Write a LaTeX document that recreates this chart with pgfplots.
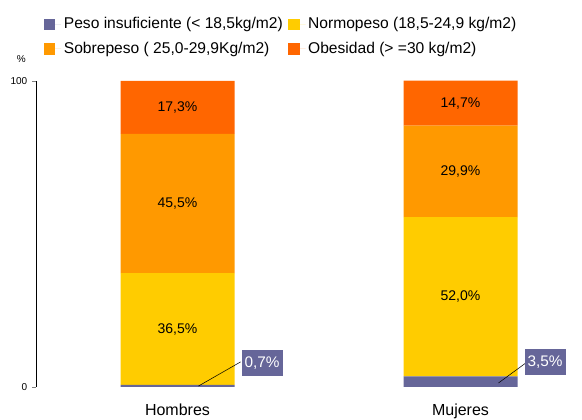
\documentclass[border=0pt]{standalone}
\usepackage{fontspec}
\setmainfont{Liberation Sans}
\usepackage{pgfplots}
\pgfplotsset{compat=1.18}

\definecolor{cInsuf}{HTML}{666699}
\definecolor{cNormo}{HTML}{FFCC00}
\definecolor{cSobre}{HTML}{FF9900}
\definecolor{cObes}{HTML}{FF6600}

\begin{document}
\begin{tikzpicture}
  \useasboundingbox (-27pt,-24.75pt) rectangle (409.5pt,290.25pt);
  \begin{axis}[
    scale only axis,
    width=382.05pt,
    height=229.5pt,
    ybar stacked,
    bar width=85.5pt,
    xmin=-0.5, xmax=1.3,
    ymin=0, ymax=100,
    clip=false,
    axis lines=left,
    axis line style={-},
    x axis line style={draw=none},
    xtick={0,1},
    xticklabels={Hombres,Mujeres},
    xtick style={draw=none},
    xticklabel style={font=\fontsize{12}{14}\selectfont, yshift=-6pt},
    ytick={0,100},
    tick align=outside,
    major tick length=3pt,
    yticklabel style={font=\fontsize{7.5}{8}\selectfont},
    /pgf/number format/assume math mode=true,
    legend columns=2,
    legend cell align=left,
    legend style={
      at={(0.015,1)}, anchor=south west, yshift=17pt,
      draw=none, fill=none, inner sep=0pt,
      font=\fontsize{11.7}{14}\selectfont,
      /tikz/every even column/.append style={column sep=2pt},
      row sep=4.5pt,
    },
    legend image code/.code={
      \fill[#1] (0pt,-4.5pt) rectangle (8.5pt,4pt);
      \path (0pt,0pt) -- (13pt,0pt);
    },
    after end axis/.code={
      % etiquetas dentro de las barras
      \node[font=\fontsize{10.5}{12}\selectfont] at (axis cs:0,18.95) {36,5\%};
      \node[font=\fontsize{10.5}{12}\selectfont] at (axis cs:0,59.95) {45,5\%};
      \node[font=\fontsize{10.5}{12}\selectfont] at (axis cs:0,91.35) {17,3\%};
      \node[font=\fontsize{10.5}{12}\selectfont] at (axis cs:1,29.5) {52,0\%};
      \node[font=\fontsize{10.5}{12}\selectfont] at (axis cs:1,70.45) {29,9\%};
      \node[font=\fontsize{10.5}{12}\selectfont] at (axis cs:1,92.7) {14,7\%};
      % llamadas de peso insuficiente
      \draw (axis cs:0.074,0.3) -- (axis cs:0.223,8.2);
      \node[fill=cInsuf, text=white, minimum width=30.75pt, minimum height=20pt, inner sep=0pt,
            font=\fontsize{11.5}{12}\selectfont] at (axis cs:0.299,7.85) {0,7\%};
      \draw (axis cs:1.134,1.3) -- (axis cs:1.23,7.8);
      \node[fill=cInsuf, text=white, minimum width=30.75pt, minimum height=20pt, inner sep=0pt,
            font=\fontsize{11.5}{12}\selectfont] at (axis cs:1.2986,8.2) {3,5\%};
      \node[font=\fontsize{7.5}{8}\selectfont, xshift=-11pt, yshift=16.5pt] at (rel axis cs:0,1) {\%};
    },
  ]
    \addplot[fill=cInsuf, draw=none] coordinates {(0,0.7) (1,3.5)};
    \addlegendentry{Peso insuficiente (< 18,5kg/m2)}
    \addplot[fill=cNormo, draw=none] coordinates {(0,36.5) (1,52.0)};
    \addlegendentry{Normopeso (18,5-24,9 kg/m2)}
    \addplot[fill=cSobre, draw=none] coordinates {(0,45.5) (1,29.9)};
    \addlegendentry{Sobrepeso ( 25,0-29,9Kg/m2)}
    \addplot[fill=cObes, draw=none] coordinates {(0,17.3) (1,14.7)};
    \addlegendentry{Obesidad (> =30 kg/m2)}
  \end{axis}
\end{tikzpicture}
\end{document}
